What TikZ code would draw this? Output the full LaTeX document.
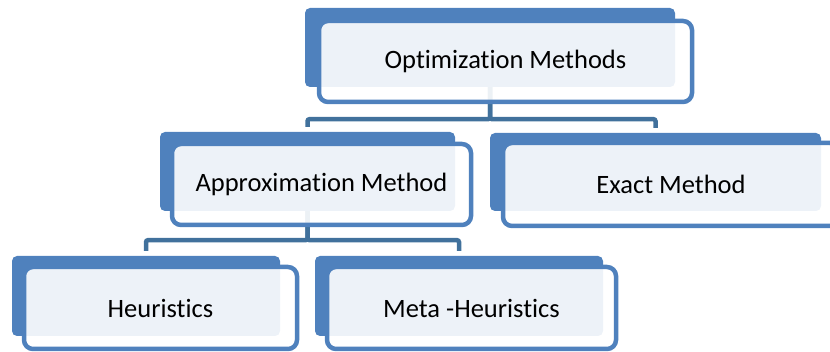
\documentclass[tikz,border=0pt]{standalone}
\usepackage{fontspec}
\setmainfont{Carlito}[Ligatures=NoCommon, RawFeature=-liga]

\definecolor{boxblue}{HTML}{4F81BD}
\definecolor{linkblue}{HTML}{41719C}

\tikzset{
  backbox/.style={rectangle, rounded corners=5pt, fill=boxblue, inner sep=0pt},
  frontbox/.style={rectangle, rounded corners=9pt, draw=boxblue, line width=4.5pt,
    fill=white, fill opacity=0.9, text opacity=1, inner sep=0pt,
    font=\fontsize{26.5}{32}\selectfont},
  link/.style={draw=linkblue, line width=4.5pt, rounded corners=2pt, shorten >=5pt}
}

\begin{document}
\begin{tikzpicture}[x=1pt, y=-1pt]
    \useasboundingbox (0,0) rectangle (830,352);
    \clip (0,0) rectangle (830,352);

    % blue plates behind each box
    \node[backbox, minimum width=370pt, minimum height=79pt] (optB) at (490,47.5) {};
    \node[backbox, minimum width=295pt, minimum height=79pt] (apxB) at (307.5,171.5) {};
    \node[backbox, minimum width=331pt, minimum height=78pt] (extB) at (655.5,172) {};
    \node[backbox, minimum width=268pt, minimum height=80pt] (heuB) at (146,296) {};
    \node[backbox, minimum width=288pt, minimum height=80pt] (metB) at (459,296) {};

    % tree connectors
    \draw[link] (optB.south) -- ++(0,32) -| (apxB.north);
    \draw[link] (optB.south) -- ++(0,32) -| (extB.north);
    \draw[link] (apxB.south) -- ++(0,29) -| (heuB.north);
    \draw[link] (apxB.south) -- ++(0,29) -| (metB.north);

    % framed boxes with the labels
    \node[frontbox, minimum width=373pt, minimum height=81pt] (opt) at (505.5,61.5) {Optimization Methods};
    \node[frontbox, minimum width=299pt, minimum height=81pt] (apx) at (321.5,184.5) {Approximation Method};
    \node[frontbox, minimum width=336pt, minimum height=83pt] (ext) at (671,184.5) {Exact Method};
    \node[frontbox, minimum width=273pt, minimum height=82pt] (heu) at (160.5,308) {Heuristics};
    \node[frontbox, minimum width=289pt, minimum height=82pt] (met) at (471.5,308) {Meta -Heuristics};
\end{tikzpicture}
\end{document}
